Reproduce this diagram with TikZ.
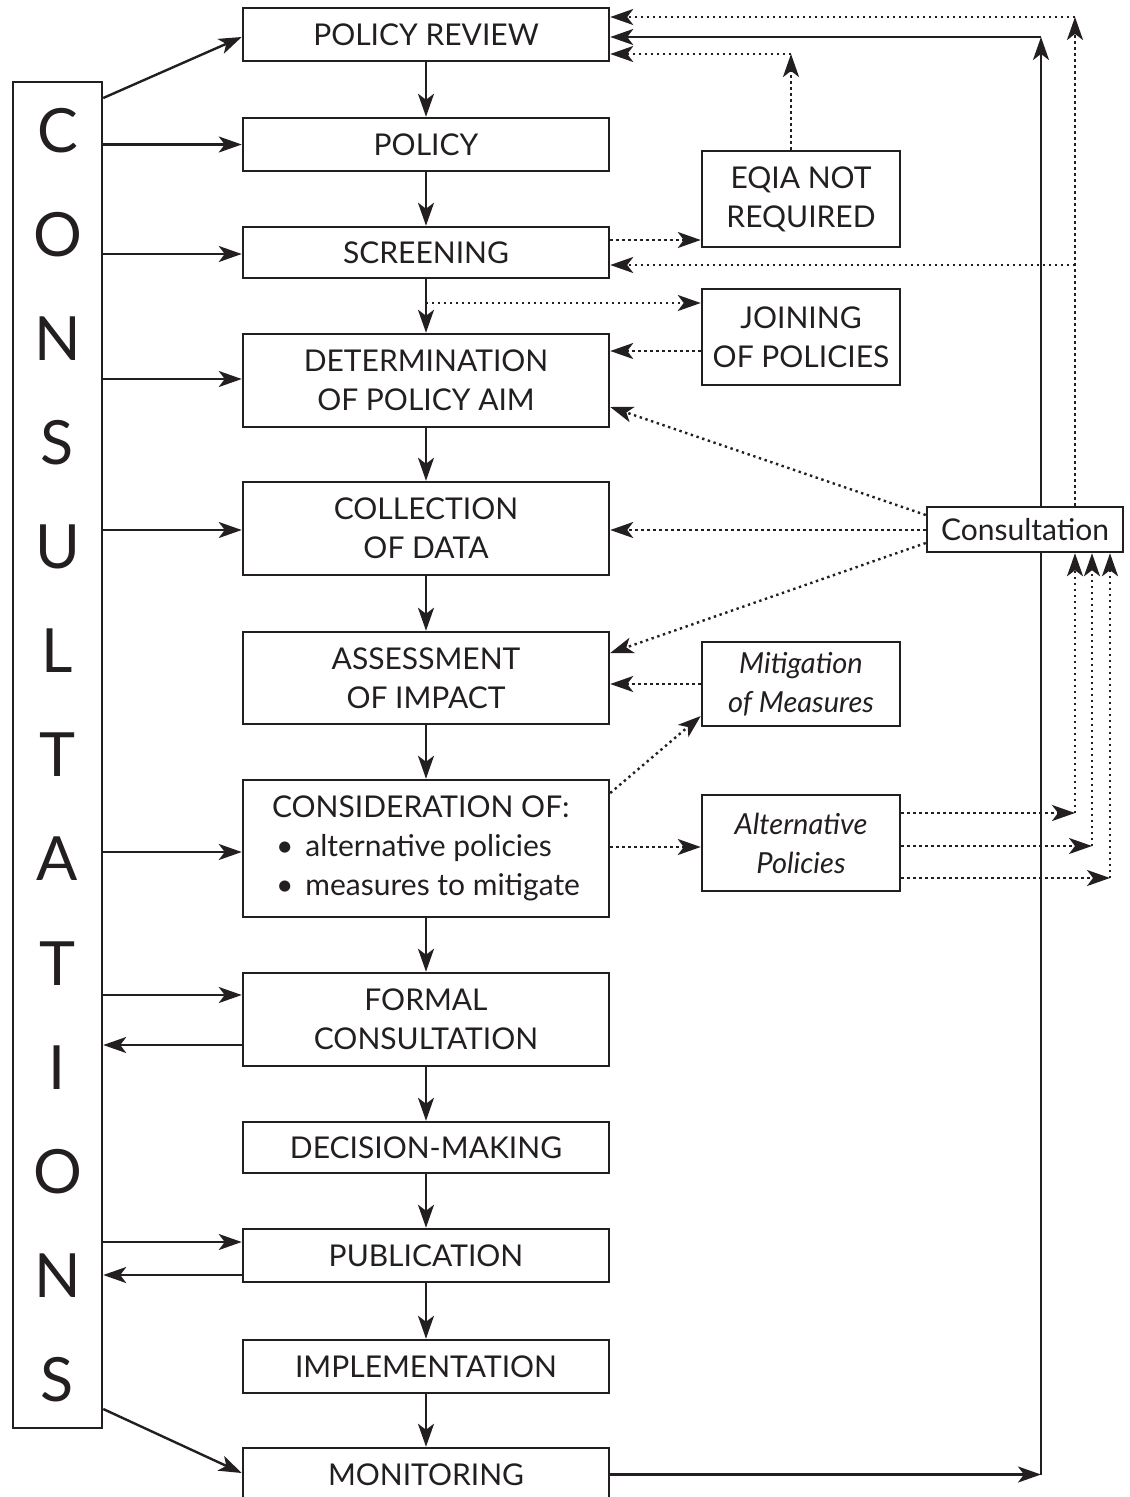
\documentclass[tikz,border=0pt]{standalone}
\usepackage{fontspec}
\setmainfont{Lato}
\usetikzlibrary{arrows.meta,calc}
\definecolor{ink}{HTML}{231F20}
\begin{document}
\begin{tikzpicture}[x=1pt,y=-1pt,
  box/.style={draw=ink, text=ink, line width=2.5pt, fill=white, inner sep=0pt, align=center, font=\fontsize{30}{39}\selectfont},
  mainbox/.style={box, minimum width=366pt},
  sidebox/.style={box, minimum width=198pt},
  conn/.style={draw=ink, line width=2.4pt, -{Stealth[length=23pt,width=16pt,inset=6pt]}},
  dotconn/.style={conn, dash pattern=on 2.4pt off 3.6pt},
]
\useasboundingbox (0,0) rectangle (1130,1497);

% left column
\node[draw=ink, text=ink, line width=2.5pt, minimum width=89pt, minimum height=1346pt, inner sep=0pt,
      align=center, font=\fontsize{61}{104.1}\selectfont] (cons) at (57.5,755)
      {C\\O\\N\\S\\U\\L\\T\\A\\T\\I\\O\\N\\S};

% main column
\node[mainbox, minimum height=53pt] (pr)  at (426,34.5)  {POLICY REVIEW};
\node[mainbox, minimum height=53pt] (pol) at (426,144.5) {POLICY};
\node[mainbox, minimum height=51pt] (scr) at (426,252.5) {SCREENING};
\node[mainbox, minimum height=93pt] (det) at (426,380.5) {DETERMINATION\\OF POLICY AIM};
\node[mainbox, minimum height=93pt] (coll) at (426,528.5) {COLLECTION\\OF DATA};
\node[mainbox, minimum height=92pt] (ass) at (426,678) {ASSESSMENT\\OF IMPACT};
\node[mainbox, minimum height=137pt, align=left] (cnd) at (426,848.5)
  {CONSIDERATION OF:\\\hspace{4pt}\textbullet\hspace{12pt}alternative policies\\\hspace{4pt}\textbullet\hspace{12pt}measures to mitigate};
\node[mainbox, minimum height=93pt] (frm) at (426,1019.5) {FORMAL\\CONSULTATION};
\node[mainbox, minimum height=51pt] (dec) at (426,1147.5) {DECISION-MAKING};
\node[mainbox, minimum height=53pt] (pub) at (426,1255.5) {PUBLICATION};
\node[mainbox, minimum height=53pt] (imp) at (426,1366.5) {IMPLEMENTATION};
\node[mainbox, minimum height=53pt] (mon) at (426,1474.5) {MONITORING};

% side column
\node[sidebox, minimum height=96pt] (eqia) at (801,199) {EQIA NOT\\REQUIRED};
\node[sidebox, minimum height=96pt] (join) at (801,337) {JOINING\\OF POLICIES};
\node[sidebox, minimum height=84pt, font=\fontsize{29}{39}\selectfont\itshape] (mit) at (801,684) {Mitigation\\of Measures};
\node[sidebox, minimum height=96pt, font=\fontsize{29}{39}\selectfont\itshape] (alt) at (801,843) {Alternative\\Policies};

% solid feedback loop
\coordinate (br) at (1041,1474.5);
\coordinate (tr) at (1041,37);
\draw[conn] (mon.east) -- (br);
\draw[conn] (br) -- (tr);
\draw[conn] (tr) -- (pr.east |- tr);

% Consultation box (over the solid line)
\node[box, minimum width=196pt, minimum height=45pt, font=\fontsize{30}{36}\selectfont] (cst) at (1025,529.5) {Consultation};

% main vertical flow
\draw[conn] (pr) -- (pol);
\draw[conn] (pol) -- (scr);
\draw[conn] (scr) -- (det);
\draw[conn] (det) -- (coll);
\draw[conn] (coll) -- (ass);
\draw[conn] (ass) -- (cnd);
\draw[conn] (cnd) -- (frm);
\draw[conn] (frm) -- (dec);
\draw[conn] (dec) -- (pub);
\draw[conn] (pub) -- (imp);
\draw[conn] (imp) -- (mon);

% from / to CONSULTATIONS
\draw[conn] (cons.east |- 0,98) -- (pr.west |- 0,37);
\draw[conn] (cons.east |- pol.west) -- (pol.west);
\draw[conn] (cons.east |- 0,254) -- (scr.west |- 0,254);
\draw[conn] (cons.east |- 0,379) -- (det.west |- 0,379);
\draw[conn] (cons.east |- 0,530) -- (coll.west |- 0,530);
\draw[conn] (cons.east |- 0,852) -- (cnd.west |- 0,852);
\draw[conn] (cons.east |- 0,995) -- (frm.west |- 0,995);
\draw[conn] (frm.west |- 0,1045) -- (cons.east |- 0,1045);
\draw[conn] (cons.east |- 0,1242) -- (pub.west |- 0,1242);
\draw[conn] (pub.west |- 0,1275) -- (cons.east |- 0,1275);
\draw[conn] (cons.east |- 0,1409) -- (mon.west |- 0,1473);

% dotted: top loop from Consultation
\coordinate (dtr) at (1075,17);
\coordinate (dscr) at (1075,265);
\draw[dotconn] (cst.north -| dtr) -- (dtr);
\draw[dotconn] (dtr) -- (pr.east |- dtr);
\draw[dotconn] (dscr) -- (scr.east |- dscr);

% dotted: EQIA
\coordinate (eqt) at (791,54);
\draw[dotconn] (scr.east |- 0,240) -- (eqia.west |- 0,240);
\draw[dotconn] (eqia.north -| eqt) -- (eqt);
\draw[dotconn] (eqt) -- (pr.east |- eqt);

% dotted: joining
\coordinate (jn) at (426,303);
\draw[dotconn] (jn) -- (join.west |- jn);
\draw[dotconn] (join.west |- 0,351) -- (det.east |- 0,351);

% dotted: Consultation fan
\draw[dotconn] (cst.west |- 0,515) -- (det.east |- 0,407);
\draw[dotconn] (cst.west |- 0,530) -- (coll.east |- 0,530);
\draw[dotconn] (cst.west |- 0,543) -- (ass.east |- 0,653);

% dotted: mitigation
\draw[dotconn] (mit.west) -- (ass.east |- mit.west);
\draw[dotconn] (cnd.east |- 0,793) -- (mit.west |- 0,716);

% dotted: alternative
\draw[dotconn] (cnd.east |- 0,847) -- (alt.west |- 0,847);
\coordinate (a1) at (1075,813);
\coordinate (a2) at (1092,846);
\coordinate (a3) at (1110,878);
\draw[dotconn] (alt.east |- a1) -- (a1);
\draw[dotconn] (alt.east |- a2) -- (a2);
\draw[dotconn] (alt.east |- a3) -- (a3);
\draw[dotconn] (a1) -- (cst.south -| a1);
\draw[dotconn] (a2) -- (cst.south -| a2);
\draw[dotconn] (a3) -- (cst.south -| a3);
\end{tikzpicture}
\end{document}
